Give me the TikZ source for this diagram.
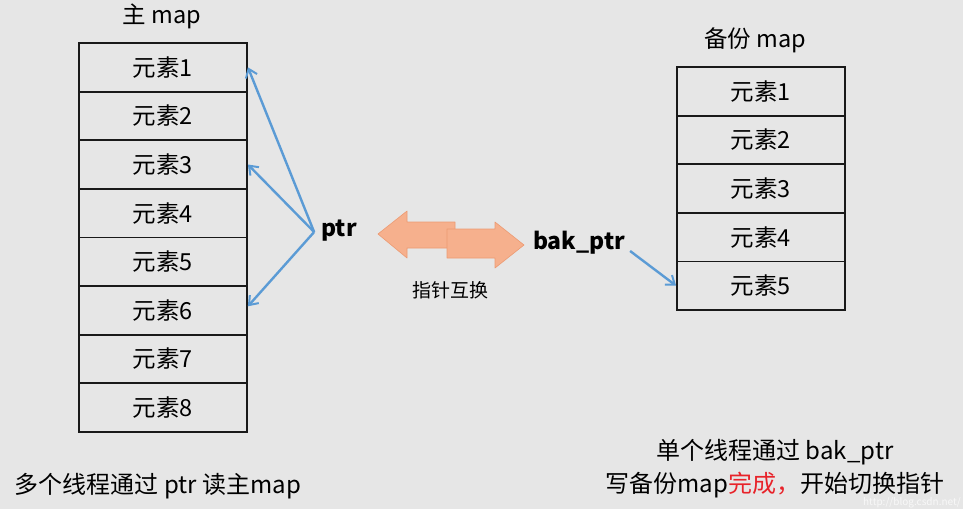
\documentclass[tikz,border=0pt]{standalone}
\usepackage{fontspec}
\setmainfont{Noto Sans CJK SC}
\usetikzlibrary{arrows.meta,positioning}
\definecolor{mapbg}{HTML}{E6E6E6}
\definecolor{ptrblue}{HTML}{5B9BD5}
\definecolor{swapfill}{HTML}{F6B08D}
\definecolor{swapedge}{HTML}{EC9A72}
\definecolor{donered}{HTML}{E8232A}
\tikzset{
  cell/.style={draw=black!90, line width=1.8pt, minimum width=168pt, minimum height=48.6pt, inner sep=0pt, font=\fontsize{23.5}{26}\selectfont},
  ttl/.style={font=\fontsize{23.5}{26}\selectfont},
  ptrname/.style={font=\fontsize{23}{26}\selectfont\bfseries, inner sep=0pt},
  ptrarr/.style={-{Straight Barb[length=8pt, width=12pt, line width=2pt]}, line width=2.4pt, color=ptrblue},
  swap/.style={fill=swapfill, draw=swapedge, line width=0.6pt, line join=round},
  note/.style={font=\fontsize{24}{33}\selectfont, align=center},
}
\begin{document}
\begin{tikzpicture}[x=1pt, y=-1pt]
  \fill[mapbg] (0,0) rectangle (963,509);
  \useasboundingbox (0,0) rectangle (963,509);

  % main map
  \node[ttl] (mtitle) at (162,16) {主 map};
  \foreach \i in {1,...,8}
    \node[cell] (m\i) at (163,{43+48.6*(\i-0.5)}) {元素\i};

  % backup map
  \node[ttl] (btitle) at (755,40) {备份 map};
  \foreach \i in {1,...,5}
    \node[cell] (b\i) at (761,{67+48.6*(\i-0.5)}) {元素\i};

  % pointers
  \node[ptrname] (ptr) at (339,231) {ptr};
  \node[ptrname] (bak) at (579,243) {bak\_ptr};
  \coordinate (pfrom) at ([xshift=-7pt,yshift=-1pt]ptr.west);
  \coordinate (bfrom) at ([xshift=5pt,yshift=-8pt]bak.east);
  \draw[ptrarr] (pfrom) -- (m1.east);
  \draw[ptrarr] (pfrom) -- (m3.east);
  \draw[ptrarr] (pfrom) -- ([yshift=4pt]m6.east);
  \draw[ptrarr] (bfrom) -- (b5.west);

  % swap arrows
  \draw[swap] (378,234) -- (407,211) -- (407,222) -- (455,222) -- (455,248)
    -- (407,248) -- (407,258) -- cycle;
  \draw[swap] (524,245) -- (495,222) -- (495,229) -- (447,229) -- (447,258)
    -- (495,258) -- (495,268) -- cycle;
  \node[font=\fontsize{19}{21}\selectfont] (swaplbl) at (450,290) {指针互换};

  % notes
  \node[note] (lnote) at (158,486) {多个线程通过 ptr 读主map};
  \node[note] (rnote) at (775,469) {单个线程通过 bak\_ptr\\写备份map\textcolor{donered}{完成，}开始切换指针};
  \node[font=\fontsize{10}{11}\selectfont, color=white!70!mapbg, inner sep=1pt] (wmark) at (912,503) {http://blog.csdn.net/};
\end{tikzpicture}
\end{document}
